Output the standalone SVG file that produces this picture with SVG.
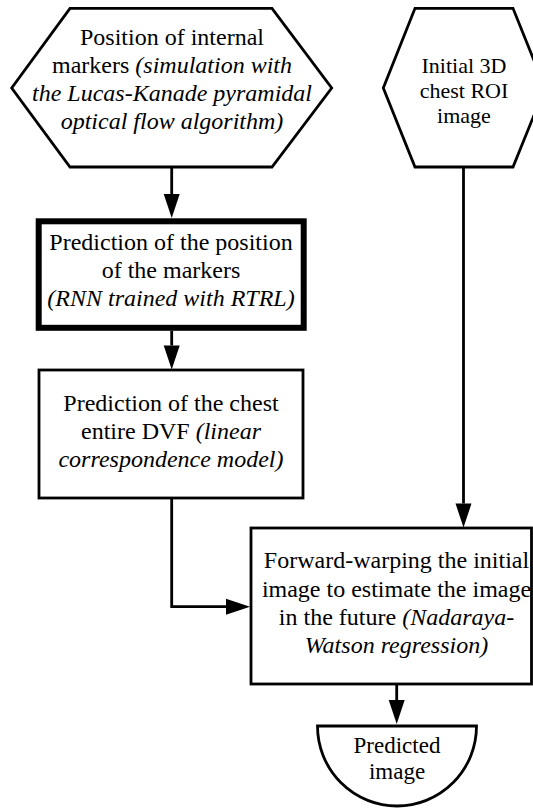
<svg xmlns="http://www.w3.org/2000/svg" width="533" height="810" viewBox="0 0 533 810">
<style>
.s{fill:#fff;stroke:#000;stroke-width:2.8}
.thick{fill:#fff;stroke:#000;stroke-width:6}
.c{fill:none;stroke:#000;stroke-width:2.8}
text{font-family:"Liberation Serif","Times New Roman",serif;font-size:24px;fill:#000;text-anchor:middle}
.sm{font-size:22px}
.i{font-style:italic}
</style>
<defs>
<marker id="ah" markerUnits="userSpaceOnUse" markerWidth="24" markerHeight="16" viewBox="0 -8 24 16" refX="0" refY="0" orient="auto" overflow="visible">
<path d="M0,-8 L24,0 L0,8 Z" fill="#000"/>
</marker>
</defs>
<g id="connectors">
<path class="c" d="M171.7,167 V194" marker-end="url(#ah)"/>
<path class="c" d="M171.7,331 V345.5" marker-end="url(#ah)"/>
<path class="c" d="M171.7,498 V606.7 H226" marker-end="url(#ah)"/>
<path class="c" d="M463.5,167 V503.5" marker-end="url(#ah)"/>
<path class="c" d="M396.7,684 V700" marker-end="url(#ah)"/>
</g>
<g id="hex1">
<polygon class="s" points="70,8.3 272,8.3 331.7,88 272,167 70,167 11.7,88"/>
<text x="172" y="45">Position of internal</text>
<text x="172" y="73">markers <tspan class="i">(simulation with</tspan></text>
<text x="172" y="101" class="i">the Lucas-Kanade pyramidal</text>
<text x="172" y="129" class="i">optical flow algorithm)</text>
</g>
<g id="hex2">
<polygon class="s" points="415,8.3 513,8.3 545,88 513,167 415,167 383.3,88"/>
<text class="sm" x="464" y="73">Initial 3D</text>
<text class="sm" x="464" y="98">chest ROI</text>
<text class="sm" x="464" y="123">image</text>
</g>
<g id="rnn">
<rect class="thick" x="38.7" y="221.3" width="265" height="106.5"/>
<text x="171" y="250">Prediction of the position</text>
<text x="171" y="278">of the markers</text>
<text x="171" y="306" class="i">(RNN trained with RTRL)</text>
</g>
<g id="dvf">
<rect class="s" x="39" y="370" width="264" height="128"/>
<text x="171" y="411">Prediction of the chest</text>
<text x="171" y="439">entire DVF <tspan class="i">(linear</tspan></text>
<text x="171" y="467" class="i">correspondence model)</text>
</g>
<g id="warp">
<rect class="s" x="251" y="528" width="280.5" height="156"/>
<text x="396.5" y="568">Forward-warping the initial</text>
<text x="396.5" y="596.5">image to estimate the image</text>
<text x="396.5" y="625">in the future <tspan class="i">(Nadaraya-</tspan></text>
<text x="396.5" y="653" class="i">Watson regression)</text>
</g>
<g id="predicted">
<path class="s" d="M317.5,726 H476.5 A79.5,80 0 0 1 317.5,726 Z"/>
<text x="397" y="753" style="font-size:23px">Predicted</text>
<text x="397" y="779" style="font-size:23px">image</text>
</g>
</svg>
